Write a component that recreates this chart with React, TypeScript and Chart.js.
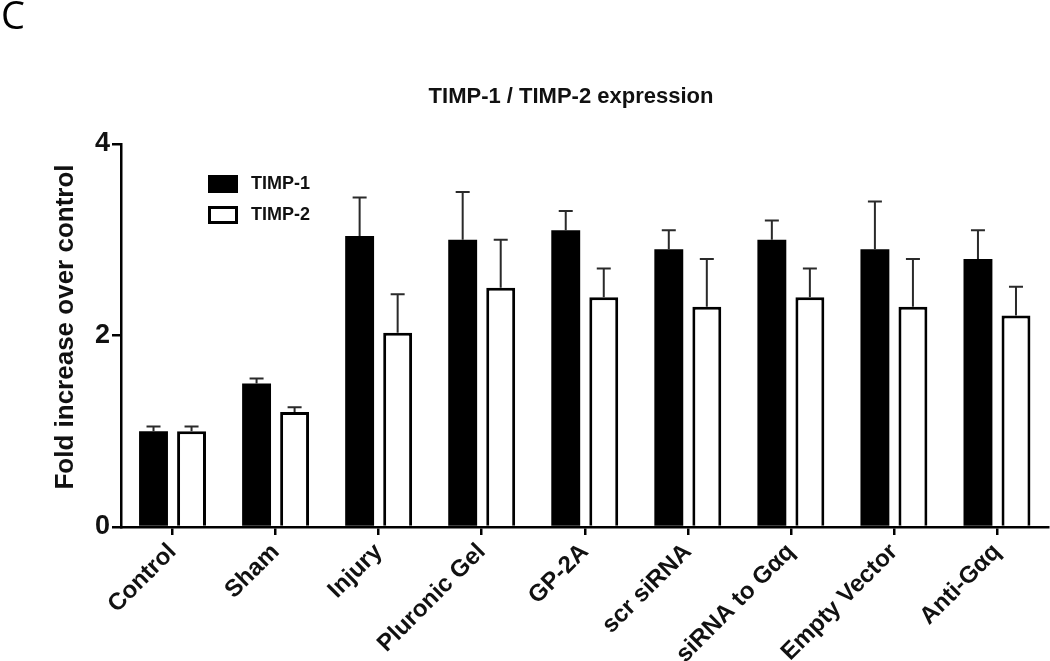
import React, { useEffect, useRef } from "react";
import { Chart, registerables } from "chart.js";

Chart.register(...registerables);

const categories = [
  "Control",
  "Sham",
  "Injury",
  "Pluronic Gel",
  "GP-2A",
  "scr siRNA",
  "siRNA to Gαq",
  "Empty Vector",
  "Anti-Gαq",
];
const timp1 = [1.0, 1.5, 3.04, 3.0, 3.1, 2.9, 3.0, 2.9, 2.8];
const timp1Err = [0.05, 0.05, 0.4, 0.5, 0.2, 0.2, 0.2, 0.5, 0.3];
const timp2 = [1.0, 1.2, 2.03, 2.5, 2.4, 2.3, 2.4, 2.3, 2.21];
const timp2Err = [0.05, 0.05, 0.4, 0.5, 0.3, 0.5, 0.3, 0.5, 0.3];
const yTicks = [0, 2, 4];
const chartTitle = "TIMP-1 / TIMP-2 expression";
const panelLabel = "C";
const yTitle = "Fold increase over control";

const FONT = "'Liberation Sans', Arial, Helvetica, sans-serif";

const errorBarPlugin = {
  id: "errorBars",
  afterDatasetsDraw(chart: any) {
    const ctx = chart.ctx;
    const yScale = chart.scales.y;
    chart.data.datasets.forEach((ds: any, di: number) => {
      const meta = chart.getDatasetMeta(di);
      const errs: number[] = ds.errors || [];
      meta.data.forEach((bar: any, i: number) => {
        const v = ds.data[i];
        const e = errs[i];
        if (e == null) return;
        const yTop = yScale.getPixelForValue(v + e);
        const yBase = yScale.getPixelForValue(v);
        ctx.save();
        ctx.strokeStyle = "#2a2a2a";
        ctx.lineWidth = 2;
        ctx.beginPath();
        ctx.moveTo(bar.x, yBase);
        ctx.lineTo(bar.x, yTop);
        ctx.moveTo(bar.x - 7, yTop);
        ctx.lineTo(bar.x + 7, yTop);
        ctx.stroke();
        ctx.restore();
      });
    });
  },
};

const annotationsPlugin = {
  id: "annotations",
  afterDraw(chart: any) {
    const ctx = chart.ctx;
    const area = chart.chartArea;
    ctx.save();
    // panel label
    ctx.fillStyle = "#000";
    ctx.font = `38px 'Open Sans', 'DejaVu Sans', sans-serif`;
    ctx.textAlign = "left";
    ctx.textBaseline = "alphabetic";
    ctx.fillText(panelLabel, 1, 29);
    // title
    ctx.font = `bold 22px ${FONT}`;
    ctx.textAlign = "center";
    ctx.fillStyle = "#111";
    ctx.fillText(chartTitle, 571, 103);
    // y axis title
    ctx.save();
    ctx.translate(66, 327);
    ctx.rotate(-Math.PI / 2);
    ctx.font = `bold 26px ${FONT}`;
    ctx.textAlign = "center";
    ctx.textBaseline = "middle";
    ctx.fillStyle = "#111";
    ctx.fillText(yTitle, 0, 0);
    ctx.restore();
    // legend
    const lx = area.left + 87;
    let ly = area.top + 31;
    chart.data.datasets.forEach((ds: any) => {
      ctx.fillStyle = ds.backgroundColor;
      ctx.fillRect(lx, ly, 30, 18);
      if (ds.backgroundColor !== "#000000") {
        ctx.strokeStyle = "#000";
        ctx.lineWidth = 3;
        ctx.strokeRect(lx + 1.5, ly + 1.5, 27, 15);
      }
      ctx.fillStyle = "#111";
      ctx.font = `bold 18px ${FONT}`;
      ctx.textAlign = "left";
      ctx.textBaseline = "middle";
      ctx.fillText(ds.label, lx + 43, ly + 9);
      ly += 31;
    });
    ctx.restore();
  },
};

export default function App() {
  const ref = useRef<HTMLCanvasElement | null>(null);

  useEffect(() => {
    if (!ref.current) return;
    const chart = new Chart(ref.current, {
      type: "bar",
      data: {
        labels: categories,
        datasets: [
          {
            label: "TIMP-1",
            data: timp1,
            errors: timp1Err,
            backgroundColor: "#000000",
            borderColor: "#000000",
            borderWidth: 0,
            categoryPercentage: 0.738,
            barPercentage: 0.76,
          } as any,
          {
            label: "TIMP-2",
            data: timp2,
            errors: timp2Err,
            backgroundColor: "#ffffff",
            borderColor: "#000000",
            borderWidth: 3,
            categoryPercentage: 0.738,
            barPercentage: 0.76,
          } as any,
        ],
      },
      options: {
        animation: false,
        responsive: false,
        devicePixelRatio: 1,
        layout: { padding: { left: 0, top: 144, right: 1.5, bottom: 0 } },
        plugins: {
          legend: { display: false },
          title: { display: false },
          tooltip: { enabled: false },
        },
        scales: {
          x: {
            offset: true,
            grid: {
              offset: false,
              drawOnChartArea: false,
              drawTicks: true,
              tickLength: 8,
              color: "#000",
              lineWidth: 2.5,
            },
            border: { display: true, color: "#000", width: 2.5 },
            ticks: {
              minRotation: 45,
              maxRotation: 45,
              autoSkip: false,
              color: "#111",
              padding: 3,
              font: { family: FONT, size: 24, weight: "bold" },
            },
            afterFit(scale: any) {
              scale.height = 134;
              scale.paddingLeft = 0;
              scale.paddingRight = 0;
            },
          },
          y: {
            min: 0,
            max: 4,
            afterBuildTicks(scale: any) {
              scale.ticks = yTicks.map((v) => ({ value: v }));
            },
            grid: {
              drawOnChartArea: false,
              drawTicks: true,
              tickLength: 9,
              color: "#000",
              lineWidth: 2.5,
            },
            border: { display: true, color: "#000", width: 2.5 },
            ticks: {
              color: "#111",
              padding: 2,
              font: { family: FONT, size: 27, weight: "bold" },
            },
            title: { display: false },
            afterFit(scale: any) {
              scale.width = 121;
              scale.paddingTop = 0;
              scale.paddingBottom = 0;
            },
          },
        },
      },
      plugins: [errorBarPlugin, annotationsPlugin],
    });
    return () => chart.destroy();
  }, []);

  return (
    <div
      style={{
        position: "fixed",
        left: 0,
        top: 0,
        width: 1050,
        height: 661,
        background: "#fff",
      }}
    >
      <canvas
        ref={ref}
        width={1050}
        height={661}
        style={{ width: 1050, height: 661, display: "block" }}
      />
    </div>
  );
}
